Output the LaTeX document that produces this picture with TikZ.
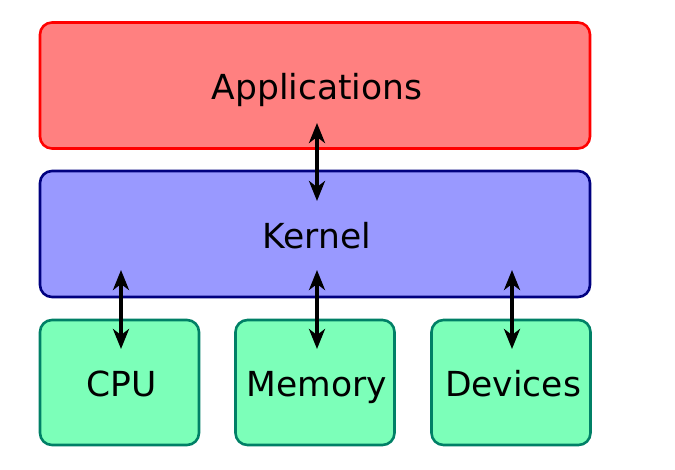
\documentclass[tikz,border=0pt]{standalone}
\usepackage{fontspec}
\setmainfont{DejaVu Sans}
\usetikzlibrary{arrows.meta}
\definecolor{appfill}{HTML}{FF8080}
\definecolor{appdraw}{HTML}{FF0000}
\definecolor{kerfill}{HTML}{9999FF}
\definecolor{kerdraw}{HTML}{000080}
\definecolor{hwfill}{HTML}{7CFFB9}
\definecolor{hwdraw}{HTML}{008066}
\tikzset{
  layer/.style={rectangle, rounded corners=12pt, line width=2.6pt, font=\fontsize{34.5}{40}\selectfont, inner sep=0pt, text height=30pt, text depth=2pt, execute at begin node=\hspace*{4pt}},
  wide/.style={layer, minimum width=550pt, minimum height=126pt},
  hwbox/.style={layer, minimum width=159pt, minimum height=125pt, fill=hwfill, draw=hwdraw},
  link/.style={line width=3.5pt, {Stealth[length=20pt,width=16pt,inset=6pt]}-{Stealth[length=20pt,width=16pt,inset=6pt]}}
}
\begin{document}
\begin{tikzpicture}[x=1pt,y=-1pt]
\useasboundingbox (0,0) rectangle (675,469);
\node[wide, fill=appfill, draw=appdraw] (app) at (315,85.5) {Applications};
\node[wide, fill=kerfill, draw=kerdraw] (ker) at (315,234) {Kernel};
\node[hwbox] (cpu) at (119.5,382.5) {CPU};
\node[hwbox] (mem) at (315,382.5) {Memory};
\node[hwbox] (dev) at (511,382.5) {Devices};
\coordinate (a1) at (317,123);
\coordinate (k1) at (317,201);
\coordinate (k2) at (121,270);
\coordinate (c1) at (121,349);
\coordinate (k3) at (317,270);
\coordinate (m1) at (317,349);
\coordinate (k4) at (512,270);
\coordinate (d1) at (512,349);
\draw[link] (a1) -- (k1);
\draw[link] (k2) -- (c1);
\draw[link] (k3) -- (m1);
\draw[link] (k4) -- (d1);
\end{tikzpicture}
\end{document}
